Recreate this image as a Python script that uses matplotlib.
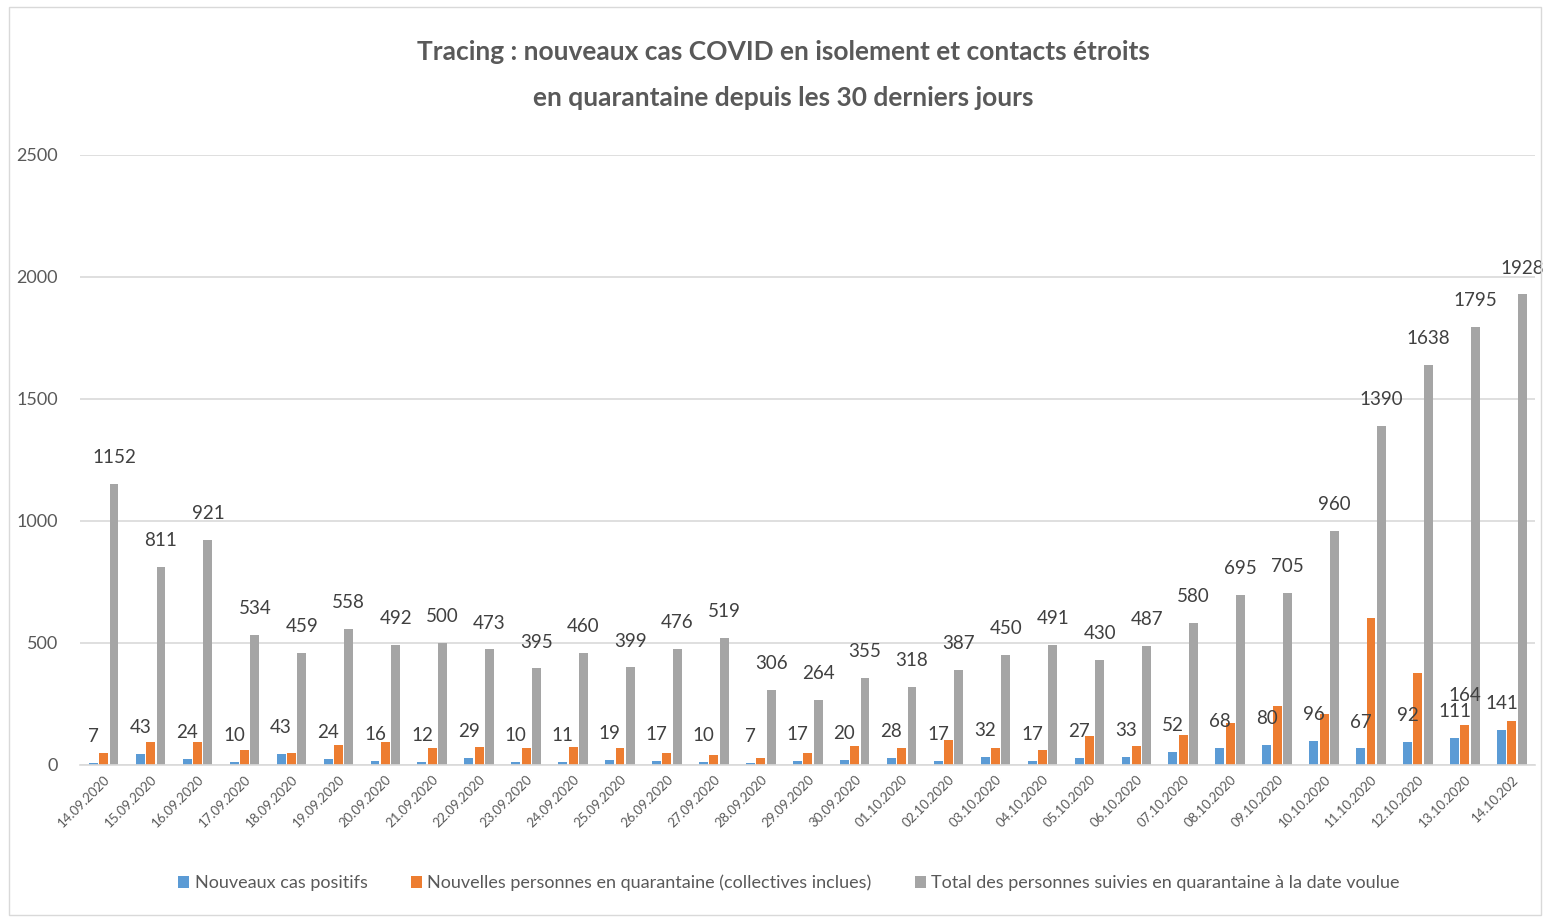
import numpy as np
from matplotlib import pyplot as plt
from matplotlib.patches import Rectangle

plt.rcParams["font.family"] = ["Lato", "DejaVu Sans"]

DATES = ["14.09.2020", "15.09.2020", "16.09.2020", "17.09.2020", "18.09.2020",
         "19.09.2020", "20.09.2020", "21.09.2020", "22.09.2020", "23.09.2020",
         "24.09.2020", "25.09.2020", "26.09.2020", "27.09.2020", "28.09.2020",
         "29.09.2020", "30.09.2020", "01.10.2020", "02.10.2020", "03.10.2020",
         "04.10.2020", "05.10.2020", "06.10.2020", "07.10.2020", "08.10.2020",
         "09.10.2020", "10.10.2020", "11.10.2020", "12.10.2020", "13.10.2020",
         "14.10.202"]
POSITIFS = [7, 43, 24, 10, 43, 24, 16, 12, 29, 10, 11, 19, 17, 10, 7, 17, 20, 28,
            17, 32, 17, 27, 33, 52, 68, 80, 96, 67, 92, 111, 141]
QUARANTAINE = [48, 95, 95, 62, 50, 83, 95, 67, 71, 67, 71, 67, 48, 40, 29, 49, 77, 67,
               100, 67, 60, 120, 75, 124, 172, 243, 210, 600, 378, 164, 179]
TOTAL = [1152, 811, 921, 534, 459, 558, 492, 500, 473, 395, 460, 399, 476, 519, 306,
         264, 355, 318, 387, 450, 491, 430, 487, 580, 695, 705, 960, 1390, 1638, 1795, 1928]
LABELLED_ORANGE = {29: 164}  # only one orange value is labelled in the source

BLUE, ORANGE, GREY = "#5b9bd5", "#ed7d31", "#a5a5a5"
TXT = "#595959"
LBL = "#404040"

fig = plt.figure(figsize=(15.43, 9.17), dpi=100)
ax = fig.add_axes([0.052, 0.166, 0.943, 0.665])

x = np.arange(len(DATES))
w, off = 0.19, 0.22
ax.bar(x - off, POSITIFS, w, color=BLUE, label="Nouveaux cas positifs")
ax.bar(x, QUARANTAINE, w, color=ORANGE, label="Nouvelles personnes en quarantaine (collectives inclues)")
ax.bar(x + off, TOTAL, w, color=GREY, label="Total des personnes suivies en quarantaine à la date voulue")

for xi, v in zip(x, POSITIFS):
    ax.annotate(str(v), (xi - off, v), xytext=(0, 19), textcoords="offset points",
                ha="center", va="center", fontsize=13.5, color=LBL)
for xi, v in zip(x, TOTAL):
    ax.annotate(str(v), (xi + off, v), xytext=(0, 19), textcoords="offset points",
                ha="center", va="center", fontsize=13.5, color=LBL)
for i, v in LABELLED_ORANGE.items():
    ax.annotate(str(v), (x[i], v), xytext=(0, 21), textcoords="offset points",
                ha="center", va="center", fontsize=13.5, color=LBL)

ax.set_xlim(-0.5, len(DATES) - 0.5)
ax.set_ylim(0, 2500)
ax.set_yticks(np.arange(0, 2501, 500))
ax.yaxis.grid(True, color="#d9d9d9", linewidth=1.2)
ax.set_axisbelow(True)
for s in ["top", "right", "left"]:
    ax.spines[s].set_visible(False)
ax.spines["bottom"].set_color("#d9d9d9")
ax.spines["bottom"].set_linewidth(1.2)
ax.tick_params(axis="y", length=0, labelsize=13, labelcolor=TXT, pad=16)
ax.tick_params(axis="x", length=0, labelsize=9.5, labelcolor=TXT, pad=6)
ax.set_xticks(x)
ax.set_xticklabels(DATES, rotation=45, ha="right", rotation_mode="anchor")

fig.text(783 / 1543, 1 - 52 / 917, "Tracing : nouveaux cas COVID en isolement et contacts étroits",
         ha="center", va="center", fontsize=19, fontweight="bold", color=TXT)
fig.text(783 / 1543, 1 - 98 / 917, "en quarantaine depuis les 30 derniers jours",
         ha="center", va="center", fontsize=19, fontweight="bold", color=TXT)

fig.legend(loc="center", bbox_to_anchor=(789 / 1543, 1 - 883 / 917), ncol=3, frameon=False,
           fontsize=13, labelcolor=TXT, handlelength=0.6, handleheight=0.6,
           handletextpad=0.3, columnspacing=2.4)

fig.patches.append(Rectangle((0.006, 0.002), 0.993, 0.99, transform=fig.transFigure,
                             fill=False, edgecolor="#d9d9d9", linewidth=1))

fig.savefig("out.png", dpi=100)
